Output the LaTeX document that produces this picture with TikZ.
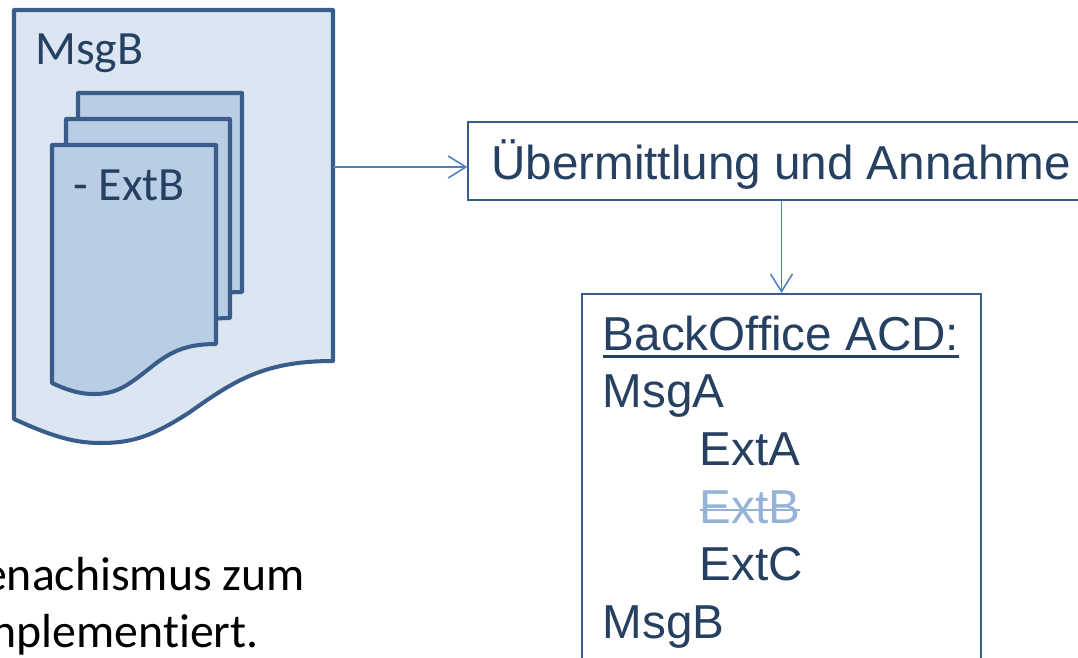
\documentclass[tikz,border=0pt]{standalone}
\usepackage{fontspec}
\setmainfont{Liberation Sans}
\newfontfamily\calibrifont[Ligatures=NoCommon]{Carlito}
\usetikzlibrary{arrows.meta,positioning}
\definecolor{linedark}{HTML}{385D8A}
\definecolor{linelight}{HTML}{4F81BD}
\definecolor{docfill}{HTML}{DCE6F2}
\definecolor{pagefill}{HTML}{B9CDE5}
\definecolor{textdark}{HTML}{254061}
\definecolor{textfaint}{HTML}{95B3D7}
\newcommand{\rulethrough}[3]{\sbox0{#3}\rlap{\rule[#1]{\wd0}{#2}}\box0}
\tikzset{
    boxnode/.style={draw=linedark, line width=0.9pt, text=textdark, inner sep=0pt, font=\fontsize{27.1}{32.8}\selectfont},
    docpath/.style={draw=linedark, line width=2.3pt, line join=round},
    doctext/.style={text=textdark, inner sep=0pt, font=\calibrifont\fontsize{27.2}{30}\selectfont},
    notetext/.style={text=black, inner sep=0pt, font=\calibrifont\fontsize{27.2}{30}\selectfont},
    conn/.style={draw=linelight, line width=1.1pt, -{Straight Barb[length=10pt,width=12.5pt,line width=0.9pt]}}
}
\begin{document}
\begin{tikzpicture}[x=0.02cm,y=-0.02cm]
    \path[use as bounding box, clip] (0,0) rectangle (1078,657);

    % outer document
    \draw[docpath, fill=docfill] (14,10) -- (333,10) -- (333,361)
        .. controls (265,361) and (235,380) .. (190,412)
        .. controls (150,438) and (130,443) .. (100,443)
        .. controls (70,443) and (45,433) .. (14,419) -- cycle;
    \node[doctext, anchor=base west] (msgb) at (35,64) {MsgB};

    % stacked pages
    \foreach \dx/\dy in {26/-52, 14/-26, 0/0} {
        \draw[docpath, fill=pagefill, shift={(\dx,\dy)}] (52,145) -- (216,145) -- (216,344)
            .. controls (185,344) and (170,352) .. (150,368)
            .. controls (125,388) and (115,394) .. (93,394)
            .. controls (78,394) and (65,389) .. (52,383) -- cycle;
    }
    \node[doctext, anchor=base west] (extb) at (73,200) {- ExtB};

    \coordinate (msgbout) at (333,167);
    \node[boxnode, minimum width=12.52cm, minimum height=1.56cm, text height=26.5pt, text depth=6pt] (annahme) at (781,161) {Übermittlung und Annahme};
    \node[boxnode, minimum width=7.98cm, minimum height=8cm, anchor=north] (backoffice) at (781.5,293) {};
    \node[boxnode, draw=none, anchor=north west, align=left] (acdlist) at (602,315) {\rulethrough{-4.2pt}{1.5pt}{BackOffice ACD:}\\
        MsgA\\
        \hspace*{55.2pt}ExtA\\
        \hspace*{55.2pt}{\color{textfaint}\rulethrough{6.8pt}{1.2pt}{ExtB}}\\
        \hspace*{55.2pt}ExtC\\
        MsgB};

    \node[notetext, anchor=base east] (noteone) at (305,590) {enachismus zum};
    \node[notetext, anchor=base east] (notetwo) at (259,647) {nplementiert.};

    \draw[conn] (msgbout) -- (msgbout -| annahme.west);
    \draw[conn] (annahme.south -| backoffice.north) -- (backoffice.north);
\end{tikzpicture}
\end{document}
